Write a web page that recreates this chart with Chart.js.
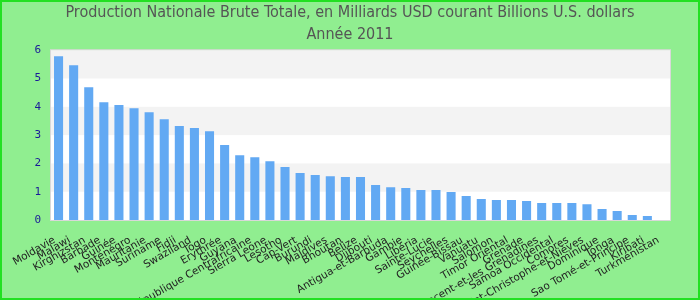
<!DOCTYPE html>
<html>
<head>
<meta charset="utf-8">
<script src="https://cdn.jsdelivr.net/npm/chart.js@4.4.1/dist/chart.umd.min.js"></script>
<style>
  html, body { margin: 0; padding: 0; background: #fff; }
  #wrap { width: 700px; height: 300px; box-sizing: border-box; border: 2px solid #22e022; background: #90ee90; }
  canvas { display: block; }
</style>
</head>
<body>
<div id="wrap"><canvas id="pnbChart" width="696" height="296"></canvas></div>
<script>
const ctx_pnb = 'pnbChart';

var pays = ["Moldavie", "Malawi", "Kirghizstan", "Barbade", "Guinée", "Monténégro", "Mauritanie",
    "Suriname", "Fidji", "Swaziland", "Togo", "Erythrée", "Guyana", "République Centrafricaine",
    "Sierra Leone", "Lesotho", "Cap-Vert", "Burundi", "Maldives", "Bhoutan", "Belize", "Djibouti",
    "Antigua-et-Barbuda", "Gambie", "Libéria", "Sainte-Lucie", "Seychelles", "Guinée-Bissau",
    "Vanuatu", "Salomon", "Timor Oriental", "Grenade", "Saint-Vincent-et-les Grenadines",
    "Samoa Occidental", "Comores", "Saint-Christophe-et-Nièves", "Dominique", "Tonga",
    "Sao Tomé-et-Principe", "Kiribati", "Turkménistan"];

var pnb2011 = [5.79, 5.47, 4.69, 4.16, 4.06, 3.95, 3.81, 3.56, 3.32, 3.25, 3.14, 2.65, 2.29,
    2.22, 2.08, 1.87, 1.66, 1.59, 1.55, 1.52, 1.52, 1.24, 1.16, 1.13, 1.06, 1.06, 0.99, 0.85,
    0.74, 0.71, 0.71, 0.67, 0.60, 0.60, 0.60, 0.56, 0.39, 0.32, 0.18, 0.14, 0];

var yTicks = [0, 1, 2, 3, 4, 5, 6];

var titre = ["Production Nationale Brute Totale, en Milliards USD courant Billions U.S. dollars", "Année 2011"];

// bandes alternées + cadre de la zone du graphe
const bandes = {
    id: 'bandes',
    beforeDatasetsDraw(chart) {
        const { ctx, chartArea: a, scales: { y } } = chart;
        ctx.save();
        ctx.fillStyle = '#ffffff';
        ctx.fillRect(a.left, a.top, a.right - a.left, a.bottom - a.top);
        ctx.fillStyle = '#f3f3f3';
        for (let i = 1; i < yTicks.length; i += 2) {
            const y1 = y.getPixelForValue(yTicks[i]);
            const y2 = y.getPixelForValue(yTicks[i + 1]);
            ctx.fillRect(a.left, y2, a.right - a.left, y1 - y2);
        }
        ctx.strokeStyle = '#d8d8d8';
        ctx.lineWidth = 1;
        ctx.strokeRect(a.left - 0.5, a.top - 0.5, a.right - a.left + 1, a.bottom - a.top + 1);
        ctx.restore();
    }
};

const pnbChart = new Chart(ctx_pnb, {
    type: 'bar',
    data: {
        labels: pays,
        datasets: [{
            label: 'PNB',
            data: pnb2011,
            backgroundColor: '#62a9f3',
            categoryPercentage: 1,
            barPercentage: 0.6
        }]
    },
    options: {
        responsive: false,
        animation: false,
        layout: {
            padding: 0
        },
        plugins: {
            legend: { display: false },
            tooltip: { enabled: false },
            title: {
                display: true,
                text: titre,
                color: '#555555',
                font: { family: "'Liberation Sans Narrow', 'DejaVu Sans Condensed', sans-serif", size: 16, weight: 'normal', lineHeight: 1.35 },
                padding: { top: 0, bottom: 5 }
            }
        },
        scales: {
            x: {
                grid: { display: false },
                border: { display: false },
                ticks: {
                    autoSkip: false,
                    minRotation: 30,
                    maxRotation: 30,
                    padding: 6,
                    labelOffset: -4,
                    color: '#222222',
                    font: { family: "'DejaVu Sans', sans-serif", size: 10.5 }
                },
                afterFit(scale) { scale.height = 78; }
            },
            y: {
                min: 0,
                max: 6,
                grid: { display: false, drawTicks: false },
                border: { display: false },
                ticks: {
                    stepSize: 1,
                    padding: 10,
                    color: '#1a1a99',
                    font: { family: "'DejaVu Sans Mono', monospace", size: 11 }
                },
                afterFit(scale) { scale.width = 49; }
            },
            // marge droite vide
            yDroite: {
                position: 'right',
                min: 0,
                max: 6,
                grid: { display: false, drawTicks: false },
                border: { display: false },
                ticks: { display: false },
                afterFit(scale) { scale.width = 28; }
            }
        }
    },
    plugins: [bandes]
});
</script>
</body>
</html>
